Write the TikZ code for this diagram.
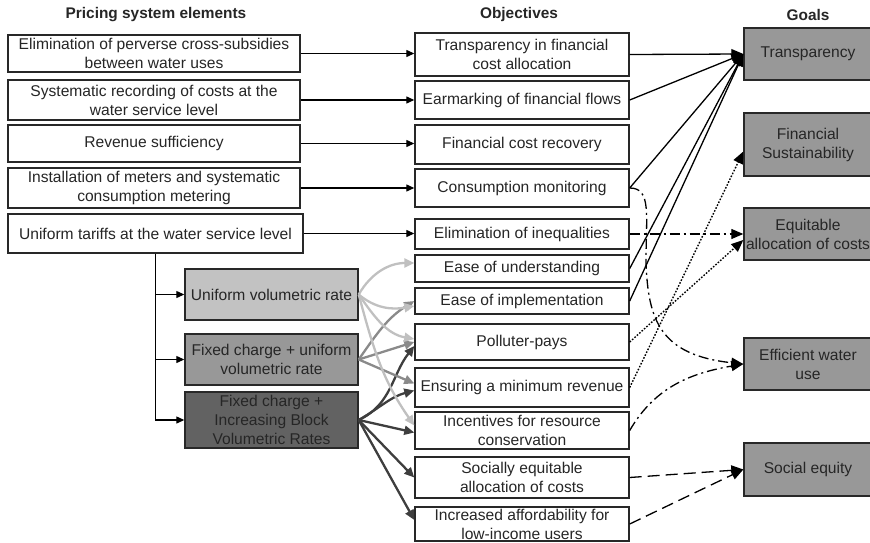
\documentclass[tikz,border=0pt]{standalone}
\usepackage{fontspec}
\setmainfont{Liberation Sans}
\usetikzlibrary{arrows.meta}
\definecolor{bordc}{RGB}{40,40,40}
\definecolor{fillA}{RGB}{194,194,194}
\definecolor{fillB}{RGB}{152,152,152}
\definecolor{fillC}{RGB}{98,98,98}
\definecolor{fillG}{RGB}{152,152,152}
\definecolor{arrA}{RGB}{192,192,192}
\definecolor{arrB}{RGB}{138,138,138}
\definecolor{arrC}{RGB}{62,62,62}
\begin{document}
\begin{tikzpicture}[x=1pt,y=-1pt,
  font=\fontsize{15.6}{19}\selectfont,
  box/.style={draw=bordc, line width=1.4pt, fill=white, align=center, inner sep=0pt, text=black!85},
  hdr/.style={font=\fontsize{15.4}{18}\selectfont\bfseries, text=black!85},
  barr/.style={line width=1.2pt, -{Triangle[length=8pt,width=7pt]}},
  garr/.style={line width=2.3pt, -{Triangle[length=10pt,width=9pt]}},
  goalarr/.style={line width=1.3pt, -{Triangle[length=12pt,width=10pt]}},
  dashdot/.style={dash pattern=on 10pt off 4pt on 2pt off 4pt},
  dotline/.style={line width=1.4pt, dash pattern=on 1.6pt off 1.6pt},
  longdash/.style={dash pattern=on 12pt off 6pt},
]
\useasboundingbox (0,0) rectangle (870,543);

% headers
\node[hdr] (h1) at (156,15) {Pricing system elements};
\node[hdr] (h2) at (519,15) {Objectives};
\node[hdr] (h3) at (808,15) {Goals};

% pricing system elements
\node[box, minimum width=292pt, minimum height=37pt] (L1) at (154,53.5) {Elimination of perverse cross-subsidies\\between water uses};
\node[box, minimum width=292pt, minimum height=40pt] (L2) at (154,100) {Systematic recording of costs at the\\water service level};
\node[box, minimum width=292pt, minimum height=37pt] (L3) at (154,143.5) {Revenue sufficiency};
\node[box, minimum width=292pt, minimum height=40pt] (L4) at (154,188) {Installation of meters and systematic\\consumption metering};
\node[box, minimum width=295pt, minimum height=39pt] (L5) at (155.5,233.5) {Uniform tariffs at the water service level};

\node[box, fill=fillA, minimum width=173pt, minimum height=51pt] (S1) at (271.5,294.5) {Uniform volumetric rate};
\node[box, fill=fillB, minimum width=173pt, minimum height=51pt] (S2) at (271.5,359.5) {Fixed charge + uniform\\volumetric rate};
\node[box, fill=fillC, minimum width=173pt, minimum height=56pt] (S3) at (271.5,420) {Fixed charge +\\Increasing Block\\Volumetric Rates};

% objectives
\node[box, minimum width=214pt, minimum height=43pt] (O1) at (522,54.5) {Transparency in financial\\cost allocation};
\node[box, minimum width=214pt, minimum height=38pt] (O2) at (522,100) {Earmarking of financial flows};
\node[box, minimum width=214pt, minimum height=39pt] (O3) at (522,144.5) {Financial cost recovery};
\node[box, minimum width=214pt, minimum height=38pt] (O4) at (522,188) {Consumption monitoring};
\node[box, minimum width=214pt, minimum height=30pt] (O5) at (522,234) {Elimination of inequalities};
\node[box, minimum width=214pt, minimum height=27pt] (O6) at (522,268.5) {Ease of understanding};
\node[box, minimum width=214pt, minimum height=26pt] (O7) at (522,301) {Ease of implementation};
\node[box, minimum width=214pt, minimum height=36pt] (O8) at (522,342) {Polluter-pays};
\node[box, minimum width=214pt, minimum height=39pt] (O9) at (522,387.5) {Ensuring a minimum revenue};
\node[box, minimum width=214pt, minimum height=37pt] (O10) at (522,430.5) {Incentives for resource\\conservation};
\node[box, minimum width=214pt, minimum height=41pt] (O11) at (522,477.5) {Socially equitable\\allocation of costs};
\node[box, minimum width=214pt, minimum height=34pt] (O12) at (522,524) {Increased affordability for\\low-income users};

% goals
\node[box, fill=fillG, minimum width=128pt, minimum height=52pt] (G1) at (808,54) {Transparency};
\node[box, fill=fillG, minimum width=128pt, minimum height=63pt] (G2) at (808,144.5) {Financial\\Sustainability};
\node[box, fill=fillG, minimum width=128pt, minimum height=52pt] (G3) at (808,234) {Equitable\\allocation of costs};
\node[box, fill=fillG, minimum width=128pt, minimum height=52pt] (G4) at (808,364) {Efficient water\\use};
\node[box, fill=fillG, minimum width=128pt, minimum height=53pt] (G5) at (808,469.5) {Social equity};

% elements -> objectives
\foreach \i in {1,...,5} {\draw[barr] (L\i.east) -- (L\i.east -| O\i.west);}
\draw[barr] (L5.south) |- (S1.west);
\draw[barr] (L5.south) |- (S2.west);
\draw[barr] (L5.south) |- (S3.west);

% tariff types -> objectives
\draw[garr, arrC] (S3.east) to[out=25, in=232] ([yshift=-4pt]O8.west);
\draw[garr, arrC] (S3.east) to[out=30, in=195] ([yshift=-3pt]O9.west);
\draw[garr, arrC] (S3.east) -- ([yshift=-2pt]O10.west);
\draw[garr, arrC] (S3.east) -- (O11.west);
\draw[garr, arrC] (S3.east) -- ([yshift=4pt]O12.west);

\draw[garr, arrB] (S2.east) to[out=55, in=212] (O7.west);
\draw[garr, arrB] (S2.east) -- (O8.west);
\draw[garr, arrB] (S2.east) -- ([yshift=4pt]O9.west);

\draw[garr, arrA] (S1.east) to[out=60, in=180] ([yshift=5.5pt]O6.west);
\draw[garr, arrA] (S1.east) to[out=-40, in=190] ([yshift=-5pt]O7.west);
\draw[garr, arrA] (S1.east) to[out=-55, in=170] ([yshift=3pt]O8.west);
\draw[garr, arrA] (S1.east) to[out=-75, in=125] ([yshift=5pt]O10.west);

% objectives -> goals
\draw[goalarr] (O1.east) -- (G1.west);
\draw[goalarr] (O2.east) -- (G1.west);
\draw[goalarr] (O4.east) -- (G1.west);
\draw[goalarr] (O6.east) -- (G1.west);
\draw[goalarr] (O7.east) -- (G1.west);

\draw[goalarr, dotline] (O9.east) -- ([yshift=-7pt]G2.west);
\draw[goalarr, dotline] (O8.east) -- ([yshift=-6pt]G3.west);
\draw[goalarr, dashdot] (O5.east) -- (O5.east -| G3.west);

\coordinate (bend) at (646,262);
\draw[goalarr, dashdot] (O4.east) .. controls +(22,0) and (646,215) .. (bend) .. controls (648,320) and (660,355) .. (G4.west);
\draw[goalarr, dashdot] (O10.east) to[out=60, in=190] (G4.west);

\draw[goalarr, longdash] (O11.east) -- (G5.west);
\draw[goalarr, longdash] (O12.east) -- (G5.west);
\end{tikzpicture}
\end{document}
